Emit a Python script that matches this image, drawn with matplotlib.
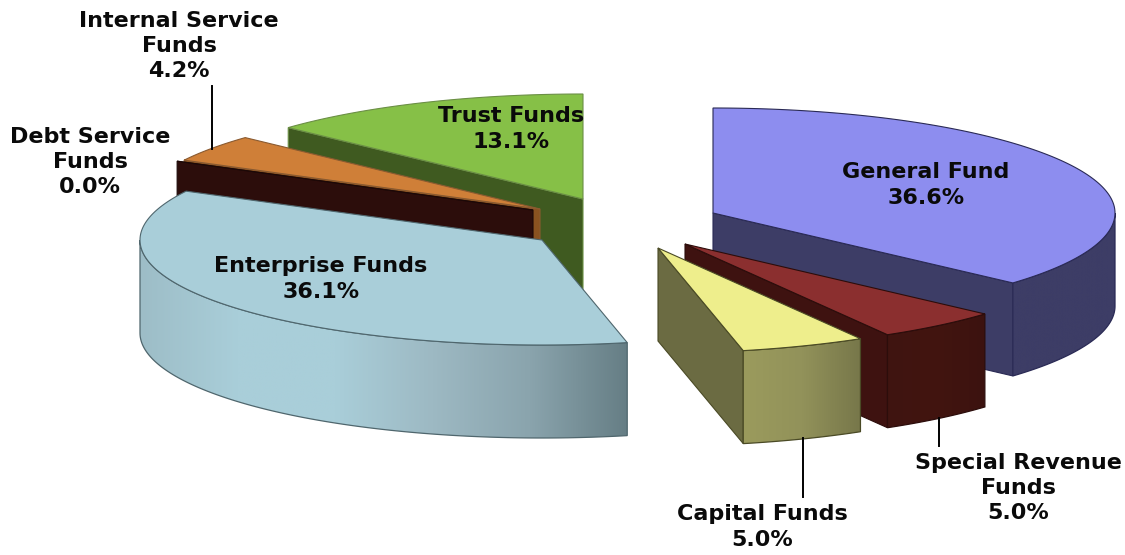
import numpy as np
import matplotlib
matplotlib.use("Agg")
import matplotlib.pyplot as plt
from matplotlib.colors import LinearSegmentedColormap
from matplotlib.patches import Polygon

funds = ["General Fund", "Special Revenue\nFunds", "Capital Funds", "Enterprise Funds",
         "Debt Service\nFunds", "Internal Service\nFunds", "Trust Funds"]
shares = [36.6, 5.0, 5.0, 36.1, 0.0, 4.2, 13.1]

# pie geometry in pixels: ellipse radii, slab height, and where each exploded slice has its tip
RX, RY, DEPTH = 402, 105, 93
tips = [(713, 213), (685, 244), (658, 248), (542, 240), (533, 210), (540, 209), (583, 199)]

top_colors = ["#8d8def", "#8b2f2f", "#eeee8c", "#a9ced9", "#3a1210", "#cf7f38", "#86c047"]
cut_colors = ["#3d3d66", "#3e1210", "#6b6b42", "#6f8a92", "#2c0d0b", "#8a5220", "#3f5a20"]
edge_colors = ["#2a2a55", "#2c0d0b", "#4a4a25", "#4f666d", "#1c0807", "#8a5a30", "#6b8f45"]
rim_ramps = [
    ["#3d3d66", "#3d3d66"],
    ["#3f1411", "#42150f", "#3c1210"],
    ["#9b9b5d", "#92925a", "#77774a"],
    ["#9dbdc7", "#a9ced9", "#a9ced9", "#9db9c3", "#8aa4ad", "#667e85"],
    ["#2c0d0b", "#2c0d0b"],
    ["#8a5220", "#8a5220"],
    ["#3f5a20", "#3f5a20"],
]
# label anchors: x centre and y centre of the text block
label_spots = [(926, 185), (1018, 488), (762, 527), (321, 279), (90, 162), (179, 46), (511, 129)]
leaders = [((212, 86), (212, 149)), ((803, 438), (803, 497)), ((939, 418), (939, 446))]

fig = plt.figure(figsize=(11.25, 5.55), dpi=100)
ax = fig.add_axes([0, 0, 1, 1])


def rim_point(tip, deg):
    rad = np.radians(deg)
    return np.column_stack([tip[0] + RX * np.sin(rad), tip[1] - RY * np.cos(rad)])


def draw_cut(tip, deg, color, edge, z):
    p = rim_point(tip, deg)[0]
    pts = [tip, p, (p[0], p[1] + DEPTH), (tip[0], tip[1] + DEPTH)]
    ax.add_patch(Polygon(pts, closed=True, fc=color, ec=edge, lw=0.8, zorder=z))


def draw_rim(tip, a, b, ramp, edge, z):
    arc = rim_point(tip, np.linspace(a, b, 120))
    pts = np.vstack([arc, (arc + [0, DEPTH])[::-1]])
    shell = Polygon(pts, closed=True, fc="none", ec=edge, lw=0.9, zorder=z + 0.1)
    ax.add_patch(shell)
    cmap = LinearSegmentedColormap.from_list("rim", ramp)
    x0, x1 = pts[:, 0].min(), pts[:, 0].max()
    y0, y1 = pts[:, 1].min(), pts[:, 1].max()
    grad = np.linspace(0, 1, 256).reshape(1, -1)
    im = ax.imshow(grad, cmap=cmap, extent=(x0, x1, y1, y0), aspect="auto", zorder=z)
    im.set_clip_path(shell)


bounds = np.concatenate([[0], np.cumsum(shares)]) / np.sum(shares) * 360

# back group first, then the front group, so nearer slices cover the ones behind
for i in [6, 5, 4, 3, 0, 1, 2]:
    z = 10 + [6, 5, 4, 3, 0, 1, 2].index(i) * 2
    tip = tips[i]
    start, end = bounds[i], bounds[i + 1]
    if 180 < start < 360:
        draw_cut(tip, start, cut_colors[i], edge_colors[i], z)
    if 0 < end < 180:
        draw_cut(tip, end, cut_colors[i], edge_colors[i], z)
    front_a, front_b = max(start, 90), min(end, 270)
    if front_b > front_a:
        draw_rim(tip, front_a, front_b, rim_ramps[i], edge_colors[i], z + 0.2)
    arc = rim_point(tip, np.linspace(start, end, 200))
    ax.add_patch(Polygon(np.vstack([[tip], arc]), closed=True, fc=top_colors[i],
                         ec=edge_colors[i], lw=0.8, zorder=z + 0.5))

for a, b in leaders:
    ax.plot([a[0], b[0]], [a[1], b[1]], color="black", lw=1.4, zorder=30)

for name, share, spot in zip(funds, shares, label_spots):
    ax.text(spot[0], spot[1], f"{name}\n{share:.1f}%", ha="center", va="center",
            fontsize=16, fontweight="bold", family="DejaVu Sans", color="#0a0a0a",
            linespacing=1.33, zorder=40)

ax.set_xlim(0, 1125)
ax.set_ylim(555, 0)
ax.axis("off")
fig.savefig("out.png", dpi=100, facecolor="white")
